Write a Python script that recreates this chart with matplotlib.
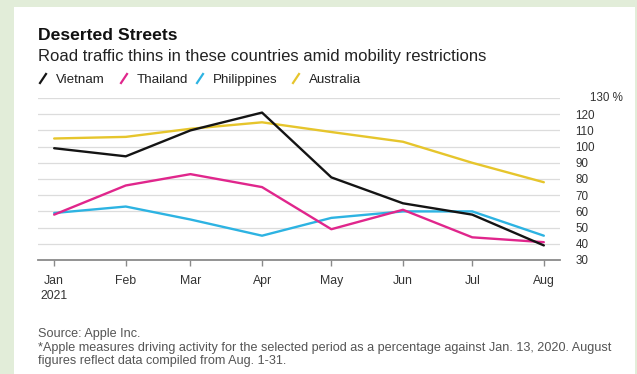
import matplotlib
matplotlib.use("Agg")
import matplotlib.pyplot as plt
from matplotlib.lines import Line2D
from matplotlib.patches import Rectangle
import numpy as np

plt.rcParams['font.family'] = ['Liberation Sans', 'DejaVu Sans']

# monthly driving activity, % of Jan. 13, 2020 baseline
months = np.array(['2021-01-01', '2021-02-01', '2021-03-01', '2021-04-01',
                   '2021-05-01', '2021-06-01', '2021-07-01', '2021-08-01'],
                  dtype='datetime64[D]')
month_labels = ['Jan\n2021', 'Feb', 'Mar', 'Apr', 'May', 'Jun', 'Jul', 'Aug']
vietnam = [99, 94, 110, 121, 81, 65, 58, 39]
thailand = [58, 76, 83, 75, 49, 61, 44, 41]
philippines = [59, 63, 55, 45, 56, 60, 60, 45]
australia = [105, 106, 111, 115, 109, 103, 90, 78]
y_ticks = [30, 40, 50, 60, 70, 80, 90, 100, 110, 120]

series = [
    ('Vietnam', vietnam, '#141414'),
    ('Thailand', thailand, '#e0268c'),
    ('Philippines', philippines, '#2db3e2'),
    ('Australia', australia, '#e6c52c'),
]

W, H = 637, 374
fig = plt.figure(figsize=(W / 100, H / 100), dpi=100)
fig.patch.set_facecolor('#e2edd9')
# white card on the green page
fig.patches.append(Rectangle((14 / W, 0), (635 - 14) / W, (374 - 7) / H,
                             transform=fig.transFigure, facecolor='white',
                             edgecolor='none', zorder=-5))

ax = fig.add_axes([38 / W, 1 - 260 / H, (560 - 38) / W, (260 - 98) / H])
ax.set_facecolor('none')

# Australia first so Vietnam ends up on top
for name, vals, col in series[::-1]:
    ax.plot(months, vals, color=col, lw=1.7, solid_capstyle='round', zorder=3)

ax.set_ylim(30, 130)
ax.set_xlim(months[0] - np.timedelta64(7, 'D'), months[-1] + np.timedelta64(7, 'D'))

for v in range(40, 131, 10):
    ax.axhline(v, color='#dcdcdc', lw=0.9, zorder=1)

for s in ['top', 'left', 'right']:
    ax.spines[s].set_visible(False)
ax.spines['bottom'].set_color('#8a8a8a')
ax.spines['bottom'].set_linewidth(1.3)

ax.set_xticks(months)
ax.set_xticklabels(month_labels, fontsize=8.8, color='#333333', linespacing=1.25)
ax.tick_params(axis='x', length=4, width=1, color='#8a8a8a', pad=7)

ax.yaxis.tick_right()
ax.set_yticks(y_ticks)
ax.set_yticklabels([str(v) for v in y_ticks], fontsize=8.4, color='#333333')
ax.tick_params(axis='y', length=0, pad=11)
ax.text(1 + 30 / (560 - 38), 130, '130 %', transform=ax.get_yaxis_transform(),
        fontsize=8.4, color='#333333', ha='left', va='center')

# title block
fig.text(38 / W, 1 - 40 / H, 'Deserted Streets', fontsize=12.6,
         fontweight='bold', color='#111111', va='baseline')
fig.text(38 / W, 1 - 61 / H,
         'Road traffic thins in these countries amid mobility restrictions',
         fontsize=12, color='#222222', va='baseline')

# legend with slash markers
leg_x = [40, 121, 197, 293]
for (name, vals, col), x0 in zip(series, leg_x):
    fig.lines.append(Line2D([x0 / W, (x0 + 6) / W], [1 - 83 / H, 1 - 74 / H],
                            transform=fig.transFigure, color=col, lw=1.6))
    fig.text((x0 + 16) / W, 1 - 83 / H, name, fontsize=9.6,
             color='#222222', va='baseline')

# footnote
fig.text(38 / W, 1 - 337 / H, 'Source: Apple Inc.', fontsize=9.1,
         color='#555555', va='baseline')
fig.text(38 / W, 1 - 351 / H,
         '*Apple measures driving activity for the selected period as a '
         'percentage against Jan. 13, 2020. August',
         fontsize=9.1, color='#555555', va='baseline')
fig.text(38 / W, 1 - 364 / H, 'figures reflect data compiled from Aug. 1-31.',
         fontsize=9.1, color='#555555', va='baseline')

fig.savefig('out.png', dpi=100, facecolor=fig.get_facecolor())
